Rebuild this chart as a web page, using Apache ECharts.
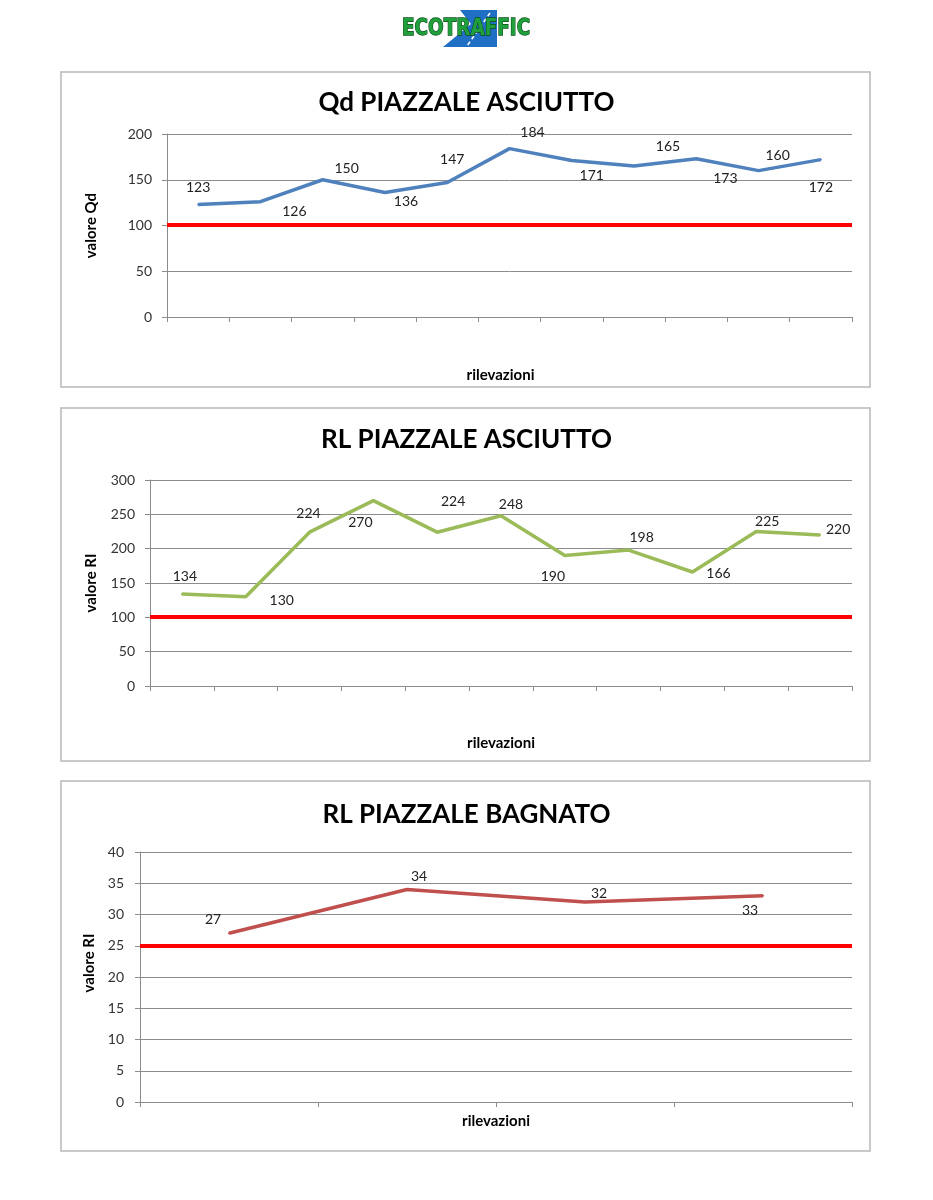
<!DOCTYPE html>
<html><head><meta charset="utf-8">
<script src="https://cdn.jsdelivr.net/npm/echarts@6/dist/echarts.min.js"></script>
<style>html,body{margin:0;padding:0;background:#fff}#c{width:933px;height:1200px}</style>
</head><body><div id="c"></div>
<script>
// ---------- DATA ----------
const qdCategories = ['1','2','3','4','5','6','7','8','9','10','11'];
const qdValues = [123,126,150,136,147,184,171,165,173,160,172];
const qdLimit = 101;
const qdTicks = [0,50,100,150,200];

const rlAsciuttoCategories = ['1','2','3','4','5','6','7','8','9','10','11'];
const rlAsciuttoValues = [134,130,224,270,224,248,190,198,166,225,220];
const rlAsciuttoLimit = 101;
const rlAsciuttoTicks = [0,50,100,150,200,250,300];

const rlBagnatoCategories = ['1','2','3','4'];
const rlBagnatoValues = [27,34,32,33];
const rlBagnatoLimit = 25;
const rlBagnatoTicks = [0,5,10,15,20,25,30,35,40];

const titles = ['Qd PIAZZALE ASCIUTTO','RL PIAZZALE ASCIUTTO','RL PIAZZALE BAGNATO'];
const yNames = ['valore Qd','valore RI','valore RI'];
const xName = 'rilevazioni';

// ---------- STYLE / LAYOUT ----------
const FONT = 'Lato, "Noto Sans", sans-serif';
const qdLabelOffsets = [[0,-17],[34,10],[24,-11],[21,9],[5,-23],[23,-16],[20,15],[34,-20],[29,20],[19,-15],[0,28]];
const rlaLabelOffsets = [[3,-18],[36,4],[-1,-19],[-13,22],[16,-31],[10,-11],[-12,21],[13,-13],[26,1],[11,-10],[18,-5]];
const rlbLabelOffsets = [[-16,-14],[12,-13],[14,-9],[-13,15]];

const grids = [
  {left:167, right:81, top:134, height:183},
  {left:150, right:81, top:480, height:206},
  {left:140, right:81, top:852, height:250}
];
const titleTops = [88, 425, 800];

function xAxisCfg(i, cats, gap, pad){
  return {type:'category', gridIndex:i, data:cats, boundaryGap:true,
    axisLine:{show:true, lineStyle:{color:'#8c8c8c', width:1}},
    axisTick:{show:true, length:5, interval:0, lineStyle:{color:'#8c8c8c'}},
    axisLabel:{show:false}, splitLine:{show:false},
    name:xName, nameLocation:'middle', nameGap:gap,
    nameTextStyle:{fontFamily:FONT, fontWeight:'bold', fontSize:15, color:'#000', padding:pad}};
}
function yAxisCfg(i, ticks, gap, margin, pad){
  return {type:'value', gridIndex:i, min:ticks[0], max:ticks[ticks.length-1], interval:ticks[1]-ticks[0],
    axisLine:{show:true, lineStyle:{color:'#8c8c8c', width:1}},
    axisTick:{show:true, length:5, lineStyle:{color:'#8c8c8c'}},
    axisLabel:{fontFamily:FONT, fontSize:14, color:'#333', margin:margin},
    splitLine:{show:true, lineStyle:{color:'#8c8c8c', width:1}},
    name:yNames[i], nameLocation:'middle', nameGap:gap,
    nameTextStyle:{fontFamily:FONT, fontWeight:'bold', fontSize:15, color:'#000', padding:pad}};
}
function lineSeries(i, values, color, offsets, limit){
  return {type:'line', xAxisIndex:i, yAxisIndex:i,
    data: values.map((v,k)=>({value:v, label:{offset:offsets[k]}})),
    symbol:'circle', symbolSize:2, showSymbol:true,
    itemStyle:{color:color}, lineStyle:{color:color, width:3.5}, z:3,
    label:{show:true, position:'inside', fontFamily:FONT, fontSize:14, color:'#222'},
    markLine:{silent:true, symbol:'none', label:{show:false},
      lineStyle:{color:'#ff0000', width:4, type:'solid', opacity:1}, data:[{yAxis:limit}]}};
}

const chart = echarts.init(document.getElementById('c'), null, {renderer:'canvas'});
chart.setOption({
  animation:false,
  backgroundColor:'#ffffff',
  title: titles.map((t,i)=>({text:t, left:'center', top:titleTops[i], padding:0,
    textStyle:{fontFamily:FONT, fontWeight:'bold', fontSize:26, color:'#000', lineHeight:30}})),
  grid: grids,
  xAxis:[xAxisCfg(0, qdCategories, 51, [0,18,0,0]), xAxisCfg(1, rlAsciuttoCategories, 50, 0), xAxisCfg(2, rlBagnatoCategories, 12, 0)],
  yAxis:[yAxisCfg(0, qdTicks, 68, 15, 0), yAxisCfg(1, rlAsciuttoTicks, 51, 15, 0), yAxisCfg(2, rlBagnatoTicks, 42, 16, [0,0,0,28])],
  series:[
    lineSeries(0, qdValues, '#4f81bd', qdLabelOffsets, qdLimit),
    lineSeries(1, rlAsciuttoValues, '#9bbb59', rlaLabelOffsets, rlAsciuttoLimit),
    lineSeries(2, rlBagnatoValues, '#c0504d', rlbLabelOffsets, rlBagnatoLimit)
  ],
  graphic:[
    {type:'rect', shape:{x:61,y:72,width:809,height:315}, style:{fill:'none', stroke:'#b8b8b8', lineWidth:1.5}, silent:true},
    {type:'rect', shape:{x:61,y:408,width:809,height:353}, style:{fill:'none', stroke:'#b8b8b8', lineWidth:1.5}, silent:true},
    {type:'rect', shape:{x:61,y:781,width:809,height:370}, style:{fill:'none', stroke:'#b8b8b8', lineWidth:1.5}, silent:true},
    {type:'polygon', shape:{points:[[460,10],[497,10],[497,47],[443,47],[471,24]]}, style:{fill:'#1f6fc5'}, silent:true},
    {type:'line', shape:{x1:490,y1:13,x2:467,y2:46}, style:{stroke:'#ffffff', lineWidth:1.5, lineDash:[4,3]}, silent:true},
    {type:'text', x:402, y:29, scaleX:0.8, silent:true,
      style:{text:'ECOTRAFFIC', x:0, y:0, fontFamily:'"DejaVu Sans", sans-serif', fontWeight:'bold', fontSize:23,
        fill:'#1fa03c', stroke:'#0d4d1a', lineWidth:1.4, verticalAlign:'middle', align:'left'}}
  ]
});
</script></body></html>
